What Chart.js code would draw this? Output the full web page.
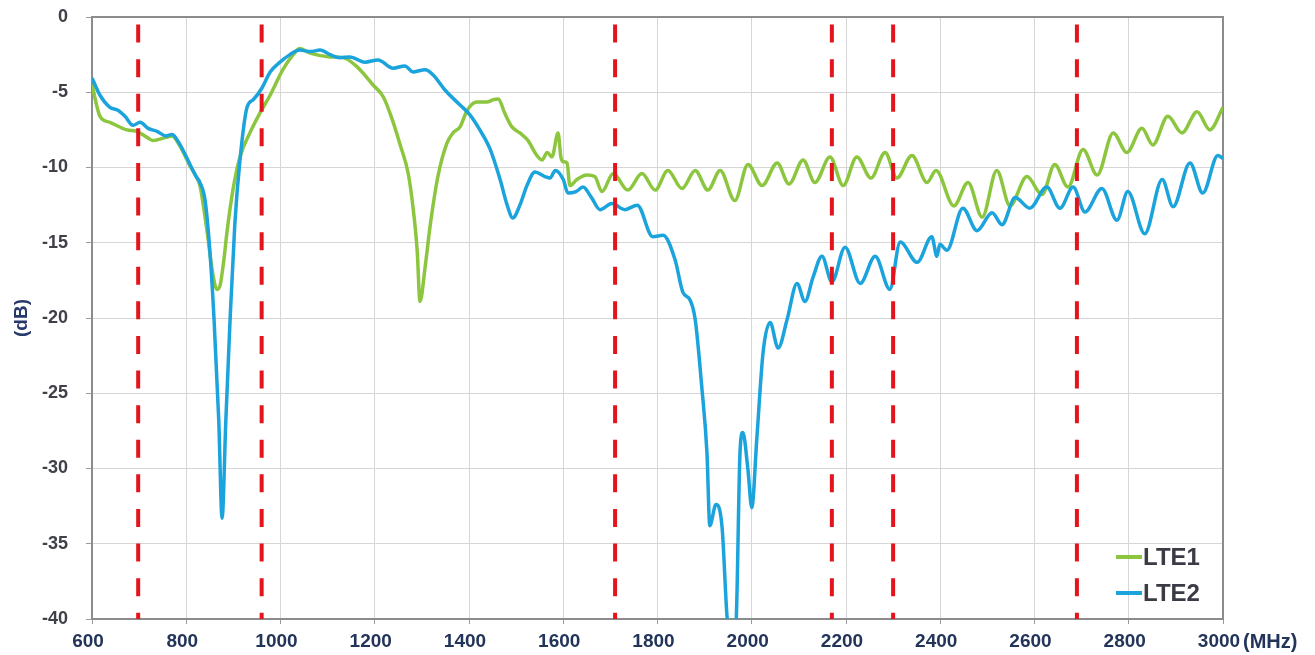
<!DOCTYPE html>
<html>
<head>
<meta charset="utf-8">
<script src="https://cdn.jsdelivr.net/npm/chart.js@4/dist/chart.umd.min.js"></script>
<style>
html,body{margin:0;padding:0;background:#fff;}
canvas{display:block;}
</style>
</head>
<body>
<canvas id="c" width="1315" height="655"></canvas>
<script>
// ---- data (frequency in MHz, return loss in dB) ----
const lte1Freq = [600,617,638,674,695,717,729,757,770,787,808,821,829,844,855,865,872,880,886,899,914,935,956,978,1005,1027,1041,1063,1105,1133,1162,1196,1218,1237,1254,1271,1281,1290,1296,1307,1317,1334,1353,1366,1381,1396,1417,1438,1451,1462,1476,1491,1508,1525,1544,1555,1566,1576,1589,1595,1599,1608,1614,1629,1650,1667,1682,1706,1737,1767,1795,1822,1852,1880,1907,1933,1964,1992,2022,2054,2079,2109,2134,2166,2194,2223,2253,2283,2308,2340,2372,2391,2429,2459,2489,2520,2548,2584,2616,2643,2671,2703,2733,2767,2796,2828,2851,2883,2913,2945,2972,3000];
const lte1DB = [-4.5,-6.6,-7.0,-7.5,-7.6,-8.0,-8.2,-8.0,-7.9,-8.6,-9.9,-10.6,-11.2,-14.2,-16.8,-18.1,-17.8,-16.1,-14.4,-11.5,-9.3,-7.7,-6.4,-5.2,-3.5,-2.5,-2.1,-2.4,-2.65,-2.7,-3.3,-4.5,-5.3,-6.8,-8.5,-10.4,-12.6,-15.5,-18.9,-16.6,-14.0,-10.6,-8.4,-7.7,-7.3,-6.2,-5.65,-5.65,-5.5,-5.45,-6.4,-7.3,-7.7,-8.2,-9.2,-9.5,-9.0,-9.3,-7.7,-9.3,-9.6,-9.7,-11.2,-10.8,-10.5,-10.6,-11.6,-10.4,-11.5,-10.4,-11.5,-10.2,-11.4,-10.2,-11.5,-10.2,-12.2,-9.8,-11.2,-9.7,-11.1,-9.5,-11.0,-9.3,-11.2,-9.3,-10.7,-9.0,-10.7,-9.2,-11.0,-10.2,-12.55,-11.0,-13.3,-10.2,-12.55,-10.6,-11.8,-9.8,-11.3,-8.8,-10.5,-7.7,-9.0,-7.4,-8.5,-6.6,-7.7,-6.3,-7.5,-6.0];

const lte2Freq = [600,617,638,655,670,687,702,719,738,757,770,787,808,821,829,840,850,859,869,876,884,893,903,914,929,942,961,978,999,1020,1041,1063,1084,1105,1126,1147,1179,1207,1239,1264,1281,1307,1324,1349,1381,1402,1423,1445,1466,1481,1493,1508,1523,1540,1561,1572,1583,1600,1610,1627,1642,1660,1678,1703,1731,1757,1790,1812,1837,1854,1869,1880,1894,1905,1911,1924,1937,1947,1956,1967,1975,1981,1992,2000,2011,2024,2039,2056,2075,2096,2113,2130,2149,2170,2198,2230,2262,2293,2315,2351,2382,2393,2399,2414,2448,2478,2510,2531,2559,2590,2626,2654,2682,2707,2743,2775,2798,2834,2871,2894,2930,2957,2989,3000];
const lte2DB = [-4.05,-5.2,-6.0,-6.2,-6.6,-7.2,-7.0,-7.4,-7.6,-7.9,-7.8,-8.5,-9.8,-10.6,-11.0,-12.2,-15.5,-20.1,-26.8,-33.3,-26.8,-20.1,-13.8,-9.5,-6.0,-5.5,-4.7,-3.65,-3.0,-2.5,-2.2,-2.3,-2.2,-2.5,-2.7,-2.65,-3.0,-2.85,-3.4,-3.25,-3.65,-3.5,-3.85,-4.85,-5.85,-6.5,-7.5,-8.8,-10.8,-12.5,-13.35,-12.5,-11.2,-10.3,-10.6,-10.7,-10.2,-10.8,-11.7,-11.6,-11.3,-12.0,-12.8,-12.4,-12.8,-12.5,-14.6,-14.5,-16.1,-18.3,-18.8,-20.1,-24.6,-29.0,-33.8,-32.4,-33.9,-39.6,-42.5,-40.1,-29.0,-27.6,-30.1,-32.6,-27.9,-22.3,-20.3,-22.0,-20.1,-17.7,-18.9,-17.3,-15.9,-17.6,-15.3,-17.7,-15.9,-18.1,-14.95,-16.3,-14.6,-15.9,-15.1,-15.5,-12.7,-14.2,-13.0,-13.8,-12.0,-12.7,-11.3,-12.7,-11.3,-12.95,-11.4,-13.5,-11.6,-14.4,-10.8,-12.6,-9.7,-11.7,-9.2,-9.4];

// LTE band edges (red dashed markers)
const bandEdges = [698, 960, 1710, 2170, 2300, 2690];
const markerTop = -0.5;
const markerBottom = -40;

const seriesNames = ['LTE1', 'LTE2'];
const seriesColors = ['#8cc63f', '#1ba3dc'];
const xAxisUnit = '(MHz)';
const yAxisTitle = '(dB)';

// ---- build datasets ----
function pairs(xs, ys){ return xs.map((x,i)=>({x:x, y:ys[i]})); }

const datasets = [
  {label: seriesNames[0], data: pairs(lte1Freq, lte1DB), borderColor: seriesColors[0], borderWidth: 3.5, pointRadius: 0, cubicInterpolationMode: 'monotone', fill:false, order: 2},
  {label: seriesNames[1], data: pairs(lte2Freq, lte2DB), borderColor: seriesColors[1], borderWidth: 3.5, pointRadius: 0, cubicInterpolationMode: 'monotone', fill:false, order: 1}
];
bandEdges.forEach(e => {
  datasets.push({label: 'band', data: [{x:e, y:markerTop},{x:e, y:markerBottom}], borderColor: '#e3141c', borderWidth: 4, borderDash: [18,16.6], borderCapStyle: 'butt', pointRadius: 0, fill:false, order: 0});
});

const frame = {
  id: 'frame',
  beforeDatasetsDraw(chart){
    const {ctx, chartArea:a} = chart;
    ctx.save();
    ctx.strokeStyle = '#8c8c8c';
    ctx.lineWidth = 2;
    ctx.strokeRect(a.left, a.top, a.right - a.left, a.bottom - a.top);
    ctx.restore();
  },
  afterDraw(chart){
    const {ctx, chartArea:a} = chart;
    ctx.save();
    // x unit after last tick
    ctx.font = 'bold 20px "Liberation Sans", Arial, sans-serif';
    ctx.fillStyle = '#23345a';
    ctx.textAlign = 'left';
    ctx.textBaseline = 'middle';
    ctx.fillText(xAxisUnit, a.right + 20, 642);
    // legend
    const rows = [557, 593];
    ctx.font = 'bold 24px "Liberation Sans", Arial, sans-serif';
    ctx.fillStyle = '#3a3b45';
    ctx.lineWidth = 4;
    for (let i=0;i<2;i++){
      ctx.strokeStyle = seriesColors[i];
      ctx.beginPath();
      ctx.moveTo(1116, rows[i]);
      ctx.lineTo(1142, rows[i]);
      ctx.stroke();
      ctx.fillText(seriesNames[i], 1143, rows[i]+1);
    }
    ctx.restore();
  }
};

new Chart(document.getElementById('c'), {
  type: 'line',
  data: { datasets },
  options: {
    responsive: false,
    animation: false,
    devicePixelRatio: 1,
    layout: { autoPadding: false, padding: { top: 17, right: 92, bottom: 0, left: 0 } },
    plugins: { legend: { display: false }, title: { display: false }, tooltip: { enabled: false } },
    scales: {
      x: {
        type: 'linear', min: 600, max: 3000,
        ticks: { stepSize: 200, padding: 6, labelOffset: -4, color: '#23345a', callback: v => String(v), font: { family: '"Liberation Sans", Arial, sans-serif', size: 19, weight: 'bold' } },
        grid: { color: '#d6d6d6', lineWidth: 1, tickLength: 5, tickColor: '#9a9a9a' },
        border: { color: '#8c8c8c', width: 2 },
        afterFit(s){ s.height = 36; s.paddingLeft = 0; s.paddingRight = 0; s.paddingTop = 0; s.paddingBottom = 0; }
      },
      y: {
        min: -40, max: 0,
        ticks: { stepSize: 5, padding: 18, color: '#3f4048', callback: v => String(v), font: { family: '"Liberation Sans", Arial, sans-serif', size: 18, weight: 'bold' } },
        grid: { color: '#d6d6d6', lineWidth: 1, tickLength: 6, tickColor: '#9a9a9a' },
        border: { color: '#8c8c8c', width: 2 },
        title: { display: true, text: yAxisTitle, color: '#27396a', padding: { top: 10, bottom: 0 }, font: { family: '"Liberation Sans", Arial, sans-serif', size: 19, weight: 'bold' } },
        afterFit(s){ s.width = 92; s.paddingTop = 0; s.paddingBottom = 0; s.paddingLeft = 0; s.paddingRight = 0; }
      }
    }
  },
  plugins: [frame]
});
</script>
</body>
</html>
